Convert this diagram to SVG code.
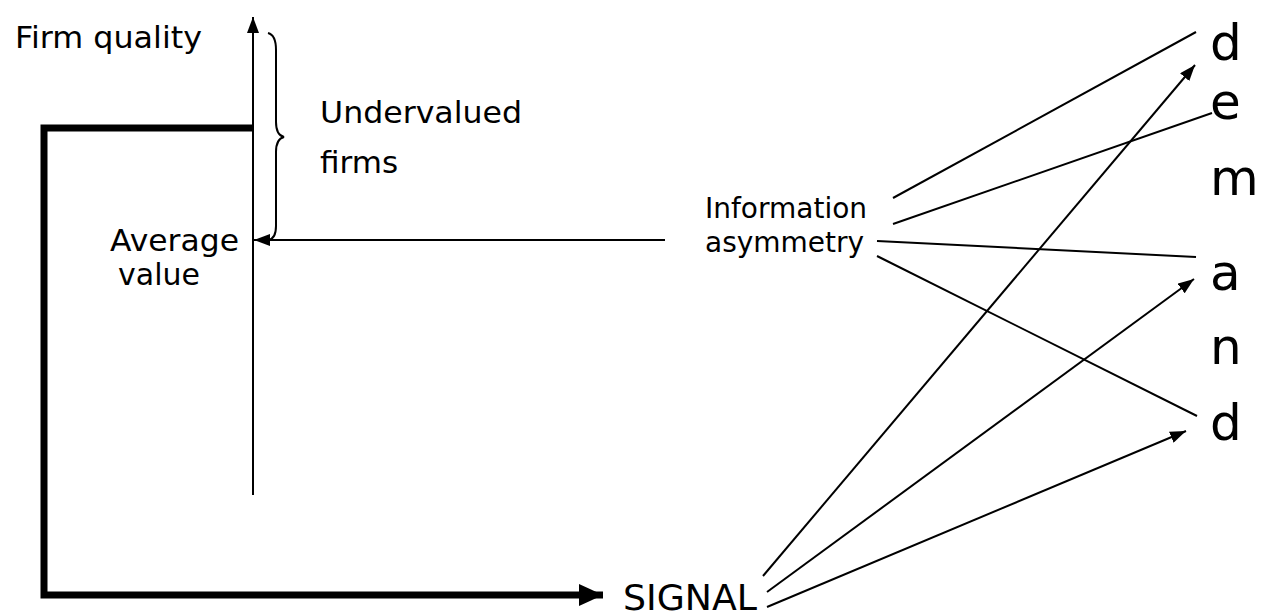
<svg xmlns="http://www.w3.org/2000/svg" width="1266" height="616" viewBox="0 0 1266 616">
<style>
text{font-family:"DejaVu Sans","Verdana",sans-serif;fill:#000}
.lbl{font-size:31px}
.avg{font-size:30px}
.small{font-size:28px}
.big{font-size:50px}
.sig{font-size:36px}
.thin{stroke:#000;stroke-width:2;fill:none}
.thick{stroke:#000;stroke-width:7;fill:none}
</style>
<defs>
<marker id="ah" viewBox="0 0 16 12" refX="16" refY="6" markerWidth="16" markerHeight="12" markerUnits="userSpaceOnUse" orient="auto"><path d="M0,0 L16,6 L0,12 Z" fill="#000"/></marker>
<marker id="ahb" viewBox="0 0 24 22" refX="24" refY="11" markerWidth="24" markerHeight="22" markerUnits="userSpaceOnUse" orient="auto"><path d="M0,0 L24,11 L0,22 Z" fill="#000"/></marker>
</defs>
<g id="axis">
<line class="thin" x1="253" y1="495" x2="253" y2="17" marker-end="url(#ah)"/>
<text class="lbl" x="15" y="48" textLength="187" lengthAdjust="spacingAndGlyphs">Firm quality</text>
</g>
<g id="brace">
<path class="thin" d="M268,33 Q276,35 276,50 L276,122 Q276,135 284,137 Q276,139 276,152 L276,226 Q276,239 268,240"/>
<text class="lbl" x="320" y="123" textLength="202" lengthAdjust="spacingAndGlyphs">Undervalued</text>
<text class="lbl" x="320" y="173">firms</text>
</g>
<g id="average">
<text class="avg" x="110" y="251" textLength="129" lengthAdjust="spacingAndGlyphs">Average</text>
<text class="avg" x="118" y="285">value</text>
</g>
<g id="info">
<text class="small" x="705" y="218">Information</text>
<text class="small" x="705" y="252">asymmetry</text>
</g>
<g id="signal">
<text class="sig" x="623" y="610" textLength="134" lengthAdjust="spacingAndGlyphs">SIGNAL</text>
</g>
<g id="demand">
<text class="big" x="1210" y="60">d</text>
<text class="big" x="1210" y="119">e</text>
<text class="big" x="1210" y="195">m</text>
<text class="big" x="1210" y="290">a</text>
<text class="big" x="1210" y="364">n</text>
<text class="big" x="1210" y="440">d</text>
</g>
<g id="connectors">
<polyline class="thick" points="253,128 44,128 44,595 603,595" marker-end="url(#ahb)"/>
<line class="thin" x1="665" y1="240" x2="254" y2="240" marker-end="url(#ah)"/>
<line class="thin" x1="893" y1="198" x2="1196" y2="32"/>
<line class="thin" x1="893" y1="224" x2="1212" y2="113"/>
<line class="thin" x1="877" y1="241" x2="1196" y2="257"/>
<line class="thin" x1="877" y1="256" x2="1197" y2="416"/>
<line class="thin" x1="763" y1="576" x2="1195" y2="65" marker-end="url(#ah)"/>
<line class="thin" x1="767" y1="592" x2="1194" y2="279" marker-end="url(#ah)"/>
<line class="thin" x1="767" y1="607" x2="1186" y2="431" marker-end="url(#ah)"/>
</g>
</svg>
